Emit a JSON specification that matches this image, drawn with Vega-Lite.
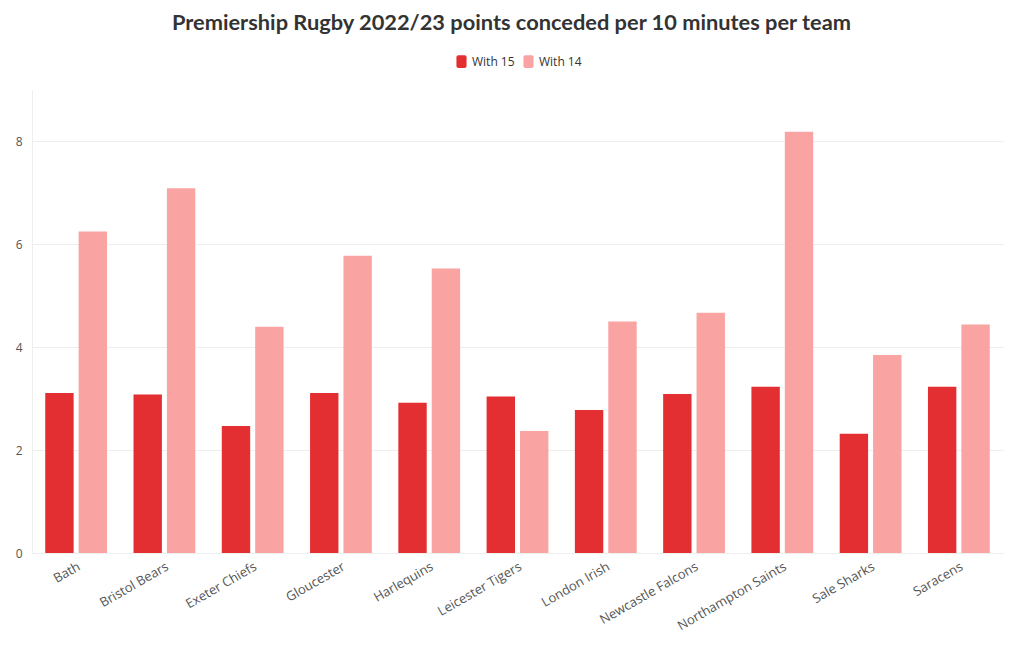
{
  "$schema": "https://vega.github.io/schema/vega-lite/v6.json",
  "width": 971,
  "height": 463,
  "autosize": {"type": "none"},
  "padding": {"left": 32, "top": 90, "right": 17, "bottom": 97},
  "background": "white",
  "title": {
    "text": "Premiership Rugby 2022/23 points conceded per 10 minutes per team",
    "anchor": "middle",
    "font": "Lato",
    "fontSize": 21.8,
    "fontWeight": "bold",
    "color": "#333333",
    "offset": 19,
    "dx": -6
  },
  "data": {
    "values": [
      {"team": "Bath", "kind": "With 15", "value": 3.11},
      {"team": "Bath", "kind": "With 14", "value": 6.25},
      {"team": "Bristol Bears", "kind": "With 15", "value": 3.08},
      {"team": "Bristol Bears", "kind": "With 14", "value": 7.09},
      {"team": "Exeter Chiefs", "kind": "With 15", "value": 2.47},
      {"team": "Exeter Chiefs", "kind": "With 14", "value": 4.40},
      {"team": "Gloucester", "kind": "With 15", "value": 3.11},
      {"team": "Gloucester", "kind": "With 14", "value": 5.78},
      {"team": "Harlequins", "kind": "With 15", "value": 2.92},
      {"team": "Harlequins", "kind": "With 14", "value": 5.53},
      {"team": "Leicester Tigers", "kind": "With 15", "value": 3.04},
      {"team": "Leicester Tigers", "kind": "With 14", "value": 2.37},
      {"team": "London Irish", "kind": "With 15", "value": 2.78},
      {"team": "London Irish", "kind": "With 14", "value": 4.50},
      {"team": "Newcastle Falcons", "kind": "With 15", "value": 3.09},
      {"team": "Newcastle Falcons", "kind": "With 14", "value": 4.67},
      {"team": "Northampton Saints", "kind": "With 15", "value": 3.23},
      {"team": "Northampton Saints", "kind": "With 14", "value": 8.19},
      {"team": "Sale Sharks", "kind": "With 15", "value": 2.32},
      {"team": "Sale Sharks", "kind": "With 14", "value": 3.85},
      {"team": "Saracens", "kind": "With 15", "value": 3.23},
      {"team": "Saracens", "kind": "With 14", "value": 4.44}
    ]
  },
  "mark": {"type": "bar"},
  "encoding": {
    "x": {
      "field": "team",
      "type": "nominal",
      "sort": null,
      "scale": {"paddingInner": 0.3, "paddingOuter": 0.15},
      "axis": {
        "title": null,
        "labelAngle": -30,
        "labelFont": "Open Sans",
        "labelFontSize": 13,
        "labelColor": "#555555",
        "labelPadding": 7,
        "ticks": false,
        "domainColor": "#eeeeee",
        "grid": false
      }
    },
    "xOffset": {
      "field": "kind",
      "type": "nominal",
      "sort": ["With 15", "With 14"],
      "scale": {"paddingInner": 0.15}
    },
    "y": {
      "field": "value",
      "type": "quantitative",
      "scale": {"domain": [0, 9], "nice": false},
      "axis": {
        "title": null,
        "values": [0, 2, 4, 6, 8],
        "labelFont": "Open Sans",
        "labelFontSize": 12,
        "labelColor": "#555555",
        "labelPadding": 10,
        "ticks": false,
        "domainColor": "#eeeeee",
        "gridColor": "#eeeeee"
      }
    },
    "color": {
      "field": "kind",
      "type": "nominal",
      "sort": ["With 15", "With 14"],
      "scale": {"domain": ["With 15", "With 14"], "range": ["#e32f31", "#f9a3a3"]},
      "legend": {
        "title": null,
        "orient": "top",
        "direction": "horizontal",
        "labelFont": "Open Sans",
        "labelFontSize": 12,
        "labelColor": "#333333",
        "symbolType": "M-0.5,-1H0.5A0.3,0.3 0 0 1 0.8,-0.7V0.7A0.3,0.3 0 0 1 0.5,1H-0.5A0.3,0.3 0 0 1 -0.8,0.7V-0.7A0.3,0.3 0 0 1 -0.5,-1Z",
        "symbolSize": 160,
        "symbolOpacity": 1,
        "columnPadding": 6,
        "labelOffset": 3,
        "offset": 22
      }
    }
  },
  "config": {
    "view": {"stroke": null},
    "legend": {"layout": {"top": {"anchor": "middle"}}}
  }
}
